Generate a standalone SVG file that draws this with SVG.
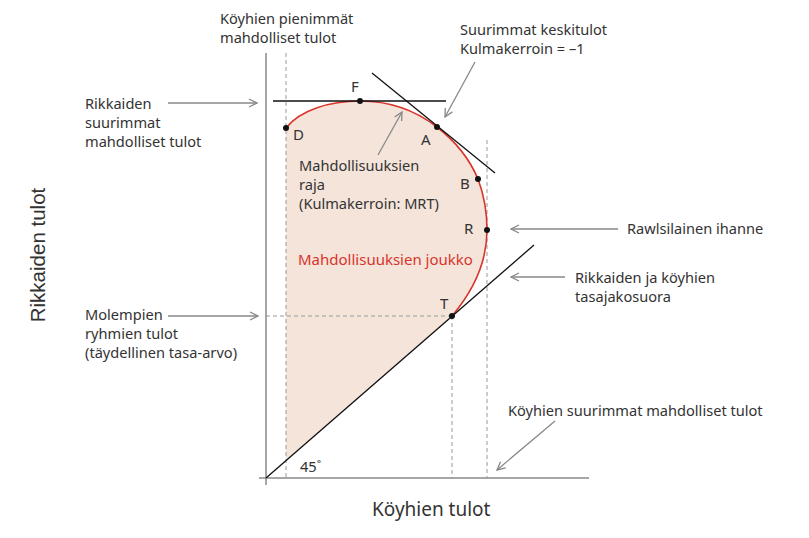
<svg xmlns="http://www.w3.org/2000/svg" width="809" height="538" viewBox="0 0 809 538">
<defs>
<marker id="ah" viewBox="0 0 10 10" refX="9" refY="5" markerWidth="10" markerHeight="10" markerUnits="userSpaceOnUse" orient="auto">
<path d="M1,1 L9,5 L1,9" fill="none" stroke="#888" stroke-width="1.3"/>
</marker>
</defs>
<style>
text{font-family:"Noto Sans","Open Sans",sans-serif;font-size:14.6px;fill:#333}
.ax{stroke:#888;stroke-width:1.5;fill:none}
.dash{stroke:#999;stroke-width:1;stroke-dasharray:4,3;fill:none}
.arr{stroke:#888;stroke-width:1.3;fill:none;marker-end:url(#ah)}
.blk{stroke:#111;stroke-width:1.3;fill:none}
.pt{fill:#111}
.lt{font-size:15px}
.big{font-size:19px}
</style>
<rect width="809" height="538" fill="#fff"/>
<g id="region">
<path d="M286,128 C300,110 330,101 360,101 C390,101 415,110 437,127 C455,141 470,160 478,179 C484,195 487,212 487,230 C487,260 474,290 452,316 L286,460.6 Z" fill="#f4e4da"/>
</g>
<g id="guides">
<line class="dash" x1="286" y1="53" x2="286" y2="478"/>
<line class="dash" x1="487" y1="140" x2="487" y2="478"/>
<line class="dash" x1="452" y1="316" x2="452" y2="478"/>
<line class="dash" x1="266" y1="316" x2="452" y2="316"/>
</g>
<g id="axes">
<line class="ax" x1="266" y1="53" x2="266" y2="485"/>
<line class="ax" x1="259" y1="478" x2="589" y2="478"/>
</g>
<g id="frontier">
<path d="M286,128 C300,110 330,101 360,101 C390,101 415,110 437,127 C455,141 470,160 478,179 C484,195 487,212 487,230 C487,260 474,290 452,316" fill="none" stroke="#d9342b" stroke-width="1.6"/>
</g>
<g id="lines">
<line class="blk" x1="266" y1="478" x2="534" y2="245"/>
<line class="blk" x1="273" y1="101" x2="446" y2="101"/>
<line class="blk" x1="372" y1="73" x2="495" y2="173"/>
</g>
<g id="points">
<circle class="pt" cx="286" cy="128" r="3"/>
<circle class="pt" cx="360" cy="101" r="3"/>
<circle class="pt" cx="437" cy="127" r="3"/>
<circle class="pt" cx="478" cy="179" r="3"/>
<circle class="pt" cx="487" cy="230" r="3"/>
<circle class="pt" cx="452" cy="316" r="3"/>
<text class="lt" x="351" y="92">F</text>
<text class="lt" x="293" y="140">D</text>
<text class="lt" x="421" y="145">A</text>
<text class="lt" x="460" y="189">B</text>
<text class="lt" x="464" y="234">R</text>
<text class="lt" x="440" y="309">T</text>
</g>
<g id="connectors">
<line class="arr" x1="168" y1="103" x2="257" y2="103"/>
<line class="arr" x1="168" y1="316" x2="258" y2="316"/>
<line class="arr" x1="475" y1="62" x2="445" y2="117"/>
<line class="arr" x1="378" y1="155" x2="402" y2="112"/>
<line class="arr" x1="618" y1="229" x2="511" y2="229"/>
<line class="arr" x1="565" y1="277" x2="511" y2="277"/>
<line class="arr" x1="555" y1="421" x2="497" y2="470"/>
</g>
<g id="labels">
<text x="220" y="24">Köyhien pienimmät</text>
<text x="220" y="43">mahdolliset tulot</text>
<text x="460" y="35">Suurimmat keskitulot</text>
<text x="460" y="54">Kulmakerroin = –1</text>
<text x="85" y="109">Rikkaiden</text>
<text x="85" y="128">suurimmat</text>
<text x="85" y="147">mahdolliset tulot</text>
<text x="299" y="171">Mahdollisuuksien</text>
<text x="299" y="190">raja</text>
<text x="299" y="209">(Kulmakerroin: MRT)</text>
<text x="298" y="265" style="fill:#d9342b;font-size:15px">Mahdollisuuksien joukko</text>
<text x="627" y="234">Rawlsilainen ihanne</text>
<text x="575" y="283">Rikkaiden ja köyhien</text>
<text x="575" y="302">tasajakosuora</text>
<text x="85" y="320">Molempien</text>
<text x="85" y="339">ryhmien tulot</text>
<text x="85" y="358">(täydellinen tasa-arvo)</text>
<text x="508" y="416">Köyhien suurimmat mahdolliset tulot</text>
<text x="300" y="472">45˚</text>
<text class="big" x="372" y="516">Köyhien tulot</text>
<text transform="translate(45,255) rotate(-90)" text-anchor="middle" style="font-family:'Liberation Sans',Arial,sans-serif;font-size:20.5px">Rikkaiden tulot</text>
</g>
</svg>
